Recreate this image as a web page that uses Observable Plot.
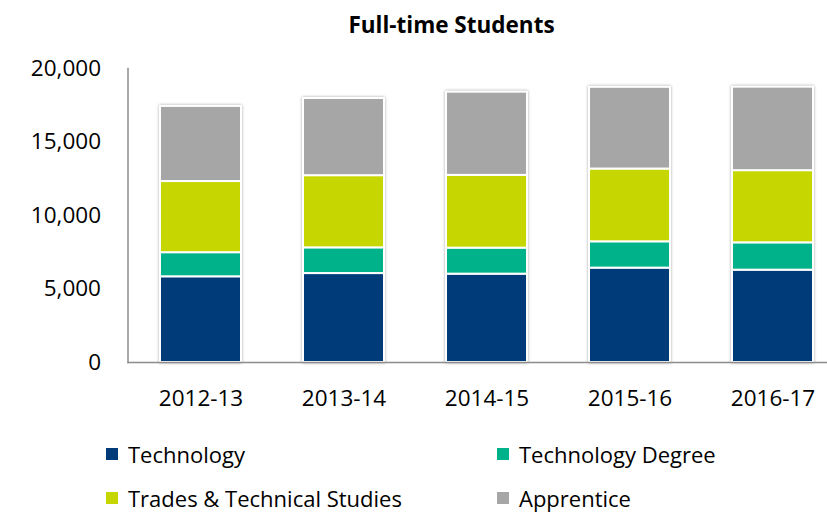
<!DOCTYPE html>
<html>
<head>
<meta charset="utf-8">
<script src="https://cdn.jsdelivr.net/npm/d3@7"></script>
<script src="https://cdn.jsdelivr.net/npm/@observablehq/plot@0.6"></script>
<style>
  html, body { margin: 0; padding: 0; background: #fff; }
  #wrap { position: relative; width: 827px; height: 514px; overflow: hidden; font-family: "Open Sans", sans-serif; color: #000; }
  #title { position: absolute; left: 76px; right: 0; top: 11px; text-align: center; font-weight: bold; font-size: 22.5px; line-height: 28px; }
  #chart { position: absolute; left: 0; top: 0; }
  #legend { position: absolute; left: 106px; top: 432px; display: grid; grid-template-columns: 391px auto; grid-auto-rows: 44px; align-items: center; font-size: 22px; line-height: 22px; }
  .item { display: flex; align-items: center; white-space: nowrap; }
  .sw { width: 12px; height: 12px; margin-right: 10px; flex: none; }
  g[aria-label="bar"] { filter: drop-shadow(0 0 1.5px rgba(0,0,0,0.35)); }
</style>
</head>
<body>
<div id="wrap">
  <div id="chart"></div>
  <div id="title">Full-time Students</div>
  <div id="legend"></div>
</div>
<script>
const years = ["2012-13", "2013-14", "2014-15", "2015-16", "2016-17"];
const seriesNames = ["Technology", "Technology Degree", "Trades & Technical Studies", "Apprentice"];
const seriesColors = ["#003B79", "#00B289", "#C5D600", "#A6A6A6"];
const technology = [5830, 6050, 6010, 6420, 6280];
const technologyDegree = [1640, 1750, 1770, 1790, 1860];
const tradesTechnical = [4840, 4910, 4950, 4950, 4910];
const apprentice = [5110, 5250, 5660, 5560, 5680];
const yTicks = [0, 5000, 10000, 15000, 20000];

const seriesValues = [technology, technologyDegree, tradesTechnical, apprentice];
const rows = years.flatMap((year, i) =>
  seriesNames.map((series, j) => ({ year, series, value: seriesValues[j][i] }))
);

const chart = Plot.plot({
  width: 827,
  height: 425,
  marginLeft: 127.5,
  marginRight: -18.5,
  marginTop: 68,
  marginBottom: 63,
  style: { fontFamily: "'Open Sans', sans-serif", fontSize: "22px", color: "#000", background: "transparent" },
  x: { domain: years, paddingInner: 0.435, paddingOuter: 0.2175, axis: null },
  y: { domain: [0, 20000], axis: null },
  color: { domain: seriesNames, range: seriesColors },
  marks: [
    Plot.barY(rows, { x: "year", y: "value", fill: "series", stroke: "white", strokeWidth: 2 }),
    Plot.ruleY([0], { stroke: "#8c8c8c", strokeWidth: 1.5 }),
    Plot.frame({ anchor: "left", stroke: "#8c8c8c", strokeWidth: 1.5 }),
    Plot.axisY({ ticks: yTicks, tickSize: 0, tickPadding: 27, tickFormat: d3.format(","), fontSize: 22.5, label: null }),
    Plot.axisX({ tickSize: 0, tickPadding: 28, fontSize: 22.5, label: null })
  ]
});
document.getElementById("chart").appendChild(chart);

const legend = document.getElementById("legend");
seriesNames.forEach((name, j) => {
  const item = document.createElement("div");
  item.className = "item";
  const sw = document.createElement("span");
  sw.className = "sw";
  sw.style.background = seriesColors[j];
  const label = document.createElement("span");
  label.textContent = name;
  item.appendChild(sw);
  item.appendChild(label);
  legend.appendChild(item);
});
</script>
</body>
</html>
